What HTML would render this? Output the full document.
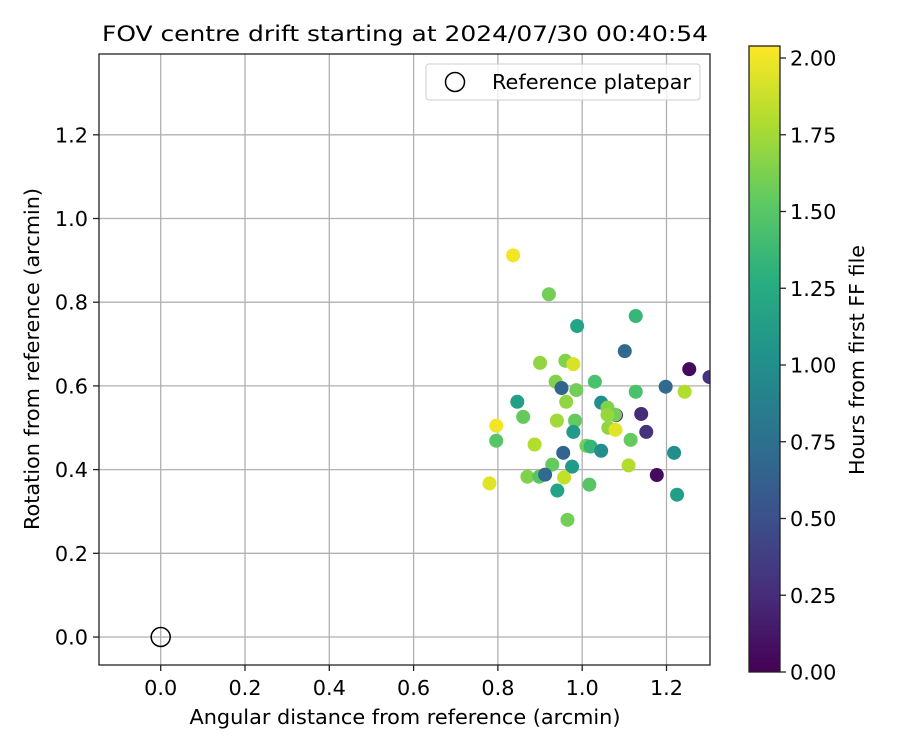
<!DOCTYPE html>
<html><head><meta charset="utf-8"><style>
body{margin:0;background:#fff}
svg text{font-family:"DejaVu Sans","Liberation Sans",sans-serif;fill:#000}
</style></head><body>
<svg id="chart" width="900" height="750" viewBox="0 0 900 750" xmlns="http://www.w3.org/2000/svg">
<defs>
<linearGradient id="vir" x1="0" y1="1" x2="0" y2="0">
<stop offset="0" stop-color="#440154"/><stop offset="0.125" stop-color="#472d7b"/><stop offset="0.25" stop-color="#3b528b"/><stop offset="0.375" stop-color="#2c728e"/><stop offset="0.5" stop-color="#21918c"/><stop offset="0.625" stop-color="#28ae80"/><stop offset="0.75" stop-color="#5ec962"/><stop offset="0.875" stop-color="#addc30"/><stop offset="1" stop-color="#fde725"/>
</linearGradient>
<clipPath id="plotclip"><rect x="99" y="54" width="611" height="611"/></clipPath>
</defs>
<text x="405" y="41" font-size="21.5" text-anchor="middle" textLength="606" lengthAdjust="spacingAndGlyphs">FOV centre drift starting at 2024/07/30 00:40:54</text>
<g id="grid"></g>
<g id="xticks"></g>
<g id="yticks"></g>
<g id="points" clip-path="url(#plotclip)"></g>
<circle id="refmark" r="9.5" fill="none" stroke="#000" stroke-width="1.5"/>
<rect x="99" y="54" width="611" height="611" fill="none" stroke="#222" stroke-width="1.3"/>
<g>
<rect x="426" y="64" width="274" height="36" rx="3" fill="#fff" fill-opacity="0.8" stroke="#ccc"/>
<circle cx="455" cy="82" r="9.5" fill="none" stroke="#000" stroke-width="1.5"/>
<text x="492" y="89" font-size="20.5" textLength="199" lengthAdjust="spacingAndGlyphs">Reference platepar</text>
</g>
<text x="405" y="724" font-size="20.8" text-anchor="middle" textLength="431" lengthAdjust="spacingAndGlyphs">Angular distance from reference (arcmin)</text>
<text transform="translate(39,359) rotate(-90)" font-size="20.8" text-anchor="middle" textLength="342" lengthAdjust="spacingAndGlyphs">Rotation from reference (arcmin)</text>
<rect x="749" y="46" width="31" height="626" fill="url(#vir)" stroke="#222" stroke-width="1.3"/>
<g id="cbticks"></g>
<text transform="translate(864,360) rotate(-90)" font-size="20.8" text-anchor="middle" textLength="230" lengthAdjust="spacingAndGlyphs">Hours from first FF file</text>
</svg>
<script>
const xTickVals=[0.0,0.2,0.4,0.6,0.8,1.0,1.2];
const xTickLabels=["0.0","0.2","0.4","0.6","0.8","1.0","1.2"];
const yTickVals=[0.0,0.2,0.4,0.6,0.8,1.0,1.2];
const yTickLabels=["0.0","0.2","0.4","0.6","0.8","1.0","1.2"];
const cbTickVals=[0,0.25,0.5,0.75,1.0,1.25,1.5,1.75,2.0];
const cbTickLabels=["0.00","0.25","0.50","0.75","1.00","1.25","1.50","1.75","2.00"];
const xs=[1.177,1.08,1.062,0.836,0.921,0.988,1.127,1.101,1.254,1.302,0.900,0.960,0.979,0.937,1.030,0.951,0.986,1.127,1.198,1.243,0.846,0.962,1.045,1.060,1.078,1.140,0.860,0.940,0.983,0.979,1.060,1.079,1.152,1.115,0.796,0.796,0.887,1.010,1.020,1.045,1.218,0.955,0.929,0.976,1.110,0.870,0.898,0.912,0.957,0.780,1.017,0.941,1.225,0.965];
const ys=[0.387,0.53,0.50,0.912,0.819,0.743,0.767,0.683,0.640,0.621,0.655,0.660,0.652,0.610,0.610,0.595,0.590,0.586,0.598,0.586,0.562,0.562,0.560,0.548,0.531,0.533,0.526,0.517,0.517,0.490,0.531,0.495,0.490,0.471,0.505,0.469,0.460,0.457,0.455,0.445,0.440,0.440,0.412,0.407,0.410,0.383,0.383,0.388,0.381,0.367,0.364,0.350,0.340,0.280];
const hours=[0.05,0.1,1.7,2.0,1.6,1.2,1.35,0.7,0.05,0.3,1.7,1.65,1.92,1.65,1.45,0.65,1.6,1.45,0.7,1.8,1.15,1.7,1.0,1.65,1.6,0.25,1.55,1.75,1.55,1.1,1.72,1.95,0.3,1.55,2.0,1.5,1.8,1.6,1.35,1.0,1.0,0.65,1.55,1.1,1.8,1.65,1.5,0.7,1.85,1.95,1.5,1.2,1.15,1.6];
const X0=160.7,XS=421.5,Y0=637,YS=418.5,CB0=672,CBS=307,VMAX=2.039;
function xPos(v){return X0+v*XS}
function yPos(v){return Y0-v*YS}
function cbPos(v){return CB0-v*CBS}
const vir=["#440154","#482475","#414487","#355f8d","#2a788e","#21918c","#22a884","#44bf70","#7ad151","#bddf26","#fde725"];
function hex(c){return [1,3,5].map(i=>parseInt(c.substr(i,2),16))}
function cmap(h){let t=Math.max(0,Math.min(1,h/VMAX))*10,i=Math.min(9,Math.floor(t)),f=t-i,a=hex(vir[i]),b=hex(vir[i+1]);return "rgb("+a.map((v,k)=>Math.round(v+(b[k]-v)*f)).join(",")+")"}
const NS="http://www.w3.org/2000/svg";
function mk(tag,attrs,parent){const e=document.createElementNS(NS,tag);for(const k in attrs)e.setAttribute(k,attrs[k]);parent.appendChild(e);return e}
const grid=document.getElementById('grid'),xt=document.getElementById('xticks'),yt=document.getElementById('yticks'),cbt=document.getElementById('cbticks'),pts=document.getElementById('points');
xTickVals.forEach((v,i)=>{const x=xPos(v);
const g=mk('line',{x1:x,x2:x,y1:54,y2:665,stroke:'#b0b0b0','stroke-width':1.3},grid);


mk('line',{x1:x,x2:x,y1:665,y2:671,stroke:'#222','stroke-width':1.3},xt);
const t=mk('text',{x:x,y:695,'font-size':20.8,'text-anchor':'middle'},xt);t.textContent=xTickLabels[i];

});
yTickVals.forEach((v,i)=>{const y=yPos(v);
const g=mk('line',{x1:99,x2:710,y1:y,y2:y,stroke:'#b0b0b0','stroke-width':1.3},grid);


mk('line',{x1:93,x2:99,y1:y,y2:y,stroke:'#222','stroke-width':1.3},yt);
const t=mk('text',{x:88,y:y+7.5,'font-size':20.8,'text-anchor':'end'},yt);t.textContent=yTickLabels[i];

});
cbTickVals.forEach((v,i)=>{const y=cbPos(v);
mk('line',{x1:780,x2:786,y1:y,y2:y,stroke:'#222','stroke-width':1.3},cbt);
const t=mk('text',{x:790,y:y+7.5,'font-size':20.8},cbt);t.textContent=cbTickLabels[i];

});
xs.forEach((v,i)=>{const c=mk('circle',{cx:xPos(v),cy:yPos(ys[i]),r:7,fill:cmap(hours[i])},pts);

});
const rm=document.getElementById('refmark');rm.setAttribute('cx',xPos(0));rm.setAttribute('cy',yPos(0));
</script>
</body></html>
